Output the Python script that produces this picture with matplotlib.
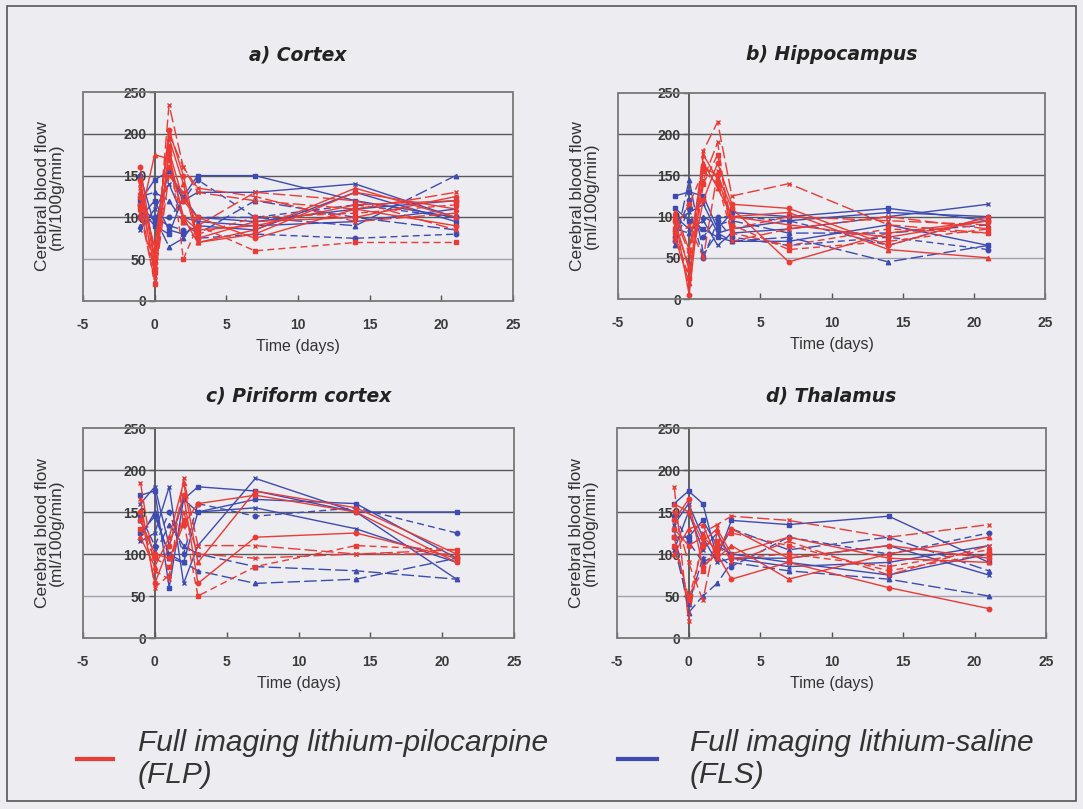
import numpy as np
import matplotlib.pyplot as plt
from matplotlib.patches import Rectangle
from matplotlib.lines import Line2D

plt.rcParams['font.family'] = ['Liberation Sans', 'DejaVu Sans']
plt.rcParams['axes.unicode_minus'] = False

# Imaging days
days = [-1, 0, 1, 2, 3, 7, 14, 21]

# a) Cortex
cortex_flp = [
    [135, 30, 235, 160, 130, 120, 110, 130],
    [160, 50, 205, 150, 75, 95, 100, 125],
    [115, 20, 185, 50, 90, 60, 70, 70],
    [100, 175, 170, 100, 70, 80, 130, 110],
    [140, 60, 200, 160, 135, 125, 95, 105],
    [125, 40, 180, 120, 100, 75, 110, 90],
    [110, 35, 160, 95, 80, 100, 105, 115],
    [130, 65, 195, 140, 70, 85, 135, 100],
    [105, 25, 150, 130, 90, 130, 120, 85],
    [145, 45, 175, 100, 85, 90, 115, 120],
]
cortex_fls = [
    [120, 145, 155, 125, 150, 150, 120, 100],
    [90, 100, 65, 75, 100, 100, 90, 150],
    [110, 90, 155, 120, 130, 130, 140, 100],
    [100, 100, 90, 85, 75, 80, 75, 80],
    [150, 90, 80, 125, 100, 95, 110, 120],
    [125, 130, 120, 95, 80, 120, 100, 85],
    [85, 110, 140, 100, 95, 90, 95, 110],
    [115, 95, 100, 120, 145, 100, 115, 100],
    [100, 120, 85, 80, 90, 85, 130, 95],
]

# b) Hippocampus
hippo_flp = [
    [90, 40, 180, 215, 125, 140, 90, 80],
    [100, 5, 160, 150, 110, 45, 80, 95],
    [80, 25, 140, 175, 90, 60, 70, 85],
    [105, 60, 165, 135, 100, 105, 60, 50],
    [70, 90, 50, 155, 85, 100, 95, 90],
    [95, 35, 120, 165, 115, 110, 65, 100],
    [85, 115, 155, 140, 80, 65, 85, 80],
    [75, 20, 175, 145, 100, 90, 75, 95],
    [100, 55, 145, 190, 70, 85, 100, 85],
]
hippo_fls = [
    [125, 130, 125, 85, 105, 100, 110, 95],
    [65, 145, 55, 80, 70, 75, 45, 65],
    [100, 85, 95, 65, 80, 85, 100, 115],
    [75, 120, 75, 100, 100, 95, 65, 100],
    [110, 95, 85, 75, 70, 70, 90, 65],
    [85, 80, 100, 90, 95, 80, 80, 90],
    [95, 105, 115, 80, 85, 95, 105, 100],
    [70, 110, 50, 95, 75, 65, 75, 60],
]

# c) Piriform cortex
piri_flp = [
    [185, 80, 70, 190, 110, 110, 100, 100],
    [150, 65, 110, 170, 65, 120, 125, 95],
    [130, 95, 85, 140, 50, 85, 110, 105],
    [120, 85, 120, 185, 90, 175, 155, 100],
    [165, 60, 75, 150, 100, 95, 100, 105],
    [140, 100, 95, 135, 160, 170, 150, 90],
]
piri_fls = [
    [170, 175, 60, 165, 180, 175, 150, 150],
    [120, 150, 95, 90, 80, 65, 70, 95],
    [115, 125, 180, 65, 110, 190, 150, 70],
    [145, 110, 150, 100, 160, 145, 155, 125],
    [125, 145, 100, 90, 150, 165, 160, 95],
    [140, 100, 135, 110, 100, 85, 80, 70],
    [160, 180, 110, 165, 150, 155, 130, 90],
]

# d) Thalamus
thal_flp = [
    [180, 20, 125, 135, 145, 140, 120, 135],
    [140, 165, 85, 100, 70, 90, 60, 35],
    [120, 45, 110, 115, 125, 110, 80, 100],
    [100, 130, 135, 95, 110, 70, 100, 120],
    [150, 90, 45, 125, 90, 115, 75, 110],
    [130, 110, 120, 105, 130, 95, 110, 95],
    [110, 50, 80, 110, 95, 100, 85, 105],
    [160, 150, 115, 130, 100, 120, 95, 90],
]
thal_fls = [
    [160, 175, 160, 95, 140, 135, 145, 90],
    [130, 30, 50, 65, 90, 80, 70, 50],
    [105, 150, 105, 125, 95, 95, 110, 75],
    [145, 115, 90, 100, 85, 120, 100, 125],
    [120, 120, 140, 110, 100, 90, 75, 100],
    [110, 40, 95, 100, 130, 105, 120, 80],
    [135, 160, 120, 90, 95, 85, 90, 110],
]

titles = ['a) Cortex', 'b) Hippocampus', 'c) Piriform cortex', 'd) Thalamus']
panels = [(cortex_flp, cortex_fls), (hippo_flp, hippo_fls),
          (piri_flp, piri_fls), (thal_flp, thal_fls)]

red = '#ec3a35'
blue = '#3d4bb2'
bg = '#ececf1'
markers = ['s', '^', 'x', 'o']
styles = ['-', (0, (9, 3)), '-', (0, (5, 3))]

fig = plt.figure(figsize=(10.83, 8.09), dpi=100, facecolor=bg)
W, H = 1083, 809
fig.patches.append(Rectangle((7 / W, 8 / H), 1069 / W, 795 / H, transform=fig.transFigure,
                             fill=False, edgecolor='#555555', lw=1.2))

# axes boxes in pixels: left, top, right, bottom
boxes = [(83, 92, 513, 301), (618, 93, 1045, 299),
         (83, 428, 514, 638), (617, 428, 1046, 638)]
title_pads = [23, 24, 19, 19]

for (l, t, r, b), title, tpad, (flp, fls) in zip(boxes, titles, title_pads, panels):
    ax = fig.add_axes([l / W, (H - b) / H, (r - l) / W, (b - t) / H])
    ax.set_facecolor(bg)
    ax.set_xlim(-5, 25)
    ax.set_ylim(0, 250)

    for y in [50, 100, 150, 200]:
        ax.axhline(y, color='#a0a0ae' if y == 50 else '#5a5a5a', lw=1.0, zorder=1)

    for i, s in enumerate(fls):
        ax.plot(days, s, color=blue, lw=1.0, ls=styles[i % 4], marker=markers[i % 4],
                ms=3.2, mew=1.0, zorder=3)
    for i, s in enumerate(flp):
        ax.plot(days, s, color=red, lw=1.0, ls=styles[(i + 1) % 4],
                marker=markers[(i + 2) % 4], ms=3.2, mew=1.0, zorder=3)

    # Excel-style y axis crossing at x = 0
    for side in ['top', 'right', 'bottom']:
        ax.spines[side].set_visible(False)
    ax.spines['left'].set_position(('data', 0))
    ax.spines['left'].set_color('#555555')
    ax.spines['left'].set_linewidth(1.3)
    ax.add_patch(Rectangle((0, 0), 1, 1, transform=ax.transAxes, fill=False,
                           edgecolor='#777777', lw=1.3, zorder=4, clip_on=False))

    ax.set_yticks([0, 50, 100, 150, 200, 250])
    ax.set_xticks([-5, 0, 5, 10, 15, 20, 25])
    ax.tick_params(axis='y', length=4, width=1, color='#555555', labelsize=10,
                   labelcolor='#3a3a3a', pad=2)
    ax.tick_params(axis='x', length=4, width=1, color='#555555', labelsize=10,
                   labelcolor='#3a3a3a', pad=12, direction='in')
    for lab in ax.get_xticklabels() + ax.get_yticklabels():
        lab.set_fontweight('bold')

    ax.set_xlabel('Time (days)', fontsize=11.5, color='#333333', labelpad=5)
    ax.set_ylabel('Cerebral blood flow\n(ml/100g/min)', fontsize=12.5, color='#333333',
                  linespacing=0.95)
    ax.yaxis.set_label_coords(-0.044, 0.5)
    ax.set_title(title, fontsize=13.5, fontweight='bold', fontstyle='italic',
                 family='DejaVu Sans', color='#222222', pad=tpad)

# legend along the bottom
fig.add_artist(Line2D([77 / W, 113 / W], [(H - 759) / H] * 2, color=red, lw=3))
fig.add_artist(Line2D([618 / W, 657 / W], [(H - 759) / H] * 2, color=blue, lw=3))
fig.text(138 / W, (H - 759) / H, 'Full imaging lithium-pilocarpine\n(FLP)', fontsize=21.5,
         fontstyle='italic', color='#333333', va='center', linespacing=1.22)
fig.text(690 / W, (H - 759) / H, 'Full imaging lithium-saline\n(FLS)', fontsize=21.5,
         fontstyle='italic', color='#333333', va='center', linespacing=1.22)

plt.savefig('out.png', dpi=100, facecolor=bg)
